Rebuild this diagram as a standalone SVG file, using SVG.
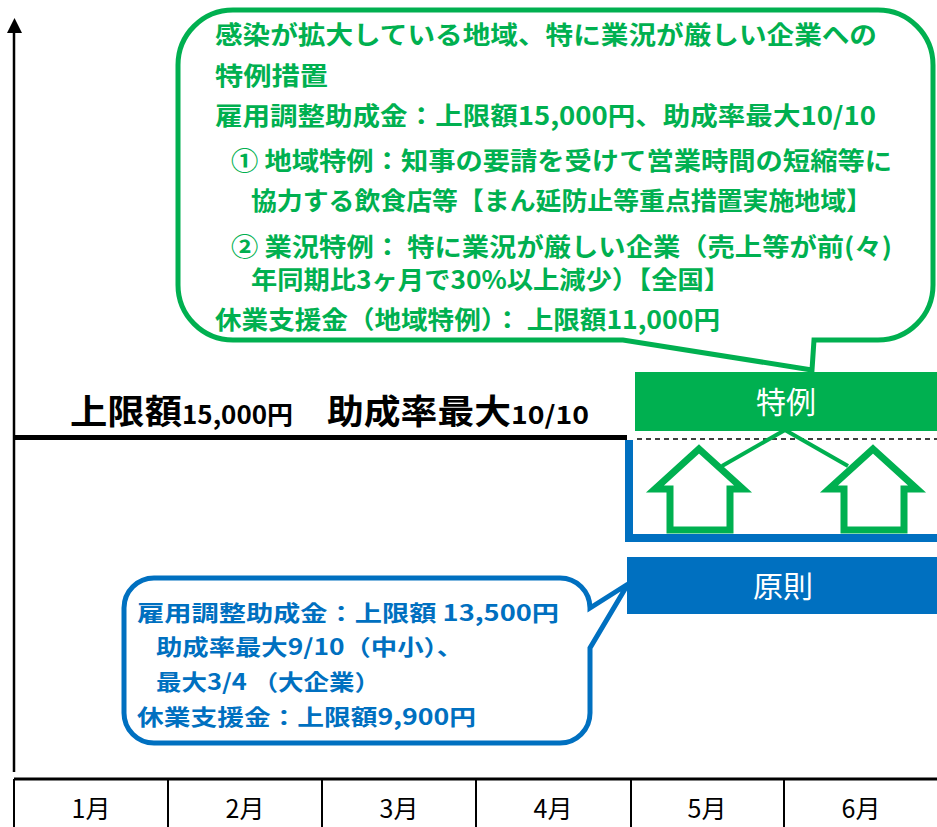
<svg xmlns="http://www.w3.org/2000/svg" width="937" height="827" viewBox="0 0 937 827">
<defs>
<style>
.gt{font-family:"Noto Sans CJK JP",sans-serif;font-weight:bold;font-size:25px;fill:#00B050;}
.bt{font-family:"Noto Sans CJK JP",sans-serif;font-weight:bold;font-size:22px;fill:#0070C0;}
.ttl{font-family:"Noto Sans CJK JP",sans-serif;font-weight:bold;fill:#000;}
.mon{font-family:"Noto Sans CJK JP",sans-serif;font-size:25px;fill:#000;text-anchor:middle;}
.lbl{font-family:"Noto Sans CJK JP",sans-serif;font-size:30px;fill:#fff;text-anchor:middle;}
.arrow{fill:#fff;stroke:#00B050;stroke-width:7;stroke-linejoin:miter;}
</style>
</defs>
<rect width="937" height="827" fill="#fff"/>

<g id="axis">
<line x1="14" y1="30" x2="14" y2="772" stroke="#000" stroke-width="2.5"/>
<polygon points="14.5,18 22,33 7,33" fill="#000"/>
</g>

<g id="table">
<line x1="14" y1="779" x2="937" y2="779" stroke="#000" stroke-width="3"/>
<g stroke="#000" stroke-width="2">
<line x1="14" y1="779" x2="14" y2="827"/>
<line x1="168" y1="779" x2="168" y2="827"/>
<line x1="322" y1="779" x2="322" y2="827"/>
<line x1="476" y1="779" x2="476" y2="827"/>
<line x1="631" y1="779" x2="631" y2="827"/>
<line x1="784" y1="779" x2="784" y2="827"/>
</g>
<text class="mon" x="91" y="818">1月</text>
<text class="mon" x="245" y="818">2月</text>
<text class="mon" x="399" y="818">3月</text>
<text class="mon" x="553" y="818">4月</text>
<text class="mon" x="707" y="818">5月</text>
<text class="mon" x="861" y="818">6月</text>
</g>

<g id="base-line">
<line x1="14" y1="437.5" x2="627" y2="437.5" stroke="#000" stroke-width="5"/>
<text class="ttl" x="70" y="424" font-size="34" textLength="112" lengthAdjust="spacingAndGlyphs">上限額</text>
<text class="ttl" x="182" y="424" font-size="25" textLength="111" lengthAdjust="spacingAndGlyphs">15,000円</text>
<text class="ttl" x="327" y="424" font-size="34" textLength="184" lengthAdjust="spacingAndGlyphs">助成率最大</text>
<text class="ttl" x="511" y="424" font-size="25" textLength="78" lengthAdjust="spacingAndGlyphs">10/10</text>
</g>

<g id="connectors">
<line x1="637" y1="439" x2="937" y2="439" stroke="#000" stroke-width="1.5" stroke-dasharray="5,4"/>
<path d="M629,440 V538 H937" fill="none" stroke="#0070C0" stroke-width="8"/>
<line x1="785" y1="430" x2="722" y2="466" stroke="#00B050" stroke-width="4"/>
<line x1="785" y1="430" x2="848" y2="466" stroke="#00B050" stroke-width="4"/>
</g>

<g id="arrow-1">
<polygon class="arrow" points="699,449 743,489 730,489 730,530 670,530 670,489 655,489"/>
</g>
<g id="arrow-2">
<polygon class="arrow" points="873,449 917,489 904,489 904,530 844,530 844,489 829,489"/>
</g>

<g id="tokurei">
<rect x="635" y="372" width="302" height="59" fill="#00B050"/>
<text class="lbl" x="786" y="413">特例</text>
</g>

<g id="gensoku">
<rect x="627" y="557" width="310" height="57" fill="#0070C0"/>
<text class="lbl" x="783" y="597">原則</text>
</g>

<g id="green-callout">
<path d="M233,10 H878 A55,55 0 0 1 933,65 V285 A55,55 0 0 1 878,340 H814 L812,370 L623,340 H233 A55,55 0 0 1 178,285 V65 A55,55 0 0 1 233,10 Z" fill="#fff" stroke="#00B050" stroke-width="5"/>
<text class="gt" x="215" y="44" textLength="662" lengthAdjust="spacingAndGlyphs">感染が拡大している地域、特に業況が厳しい企業への</text>
<text class="gt" x="215" y="85" textLength="113" lengthAdjust="spacingAndGlyphs">特例措置</text>
<text class="gt" x="215" y="125" textLength="661" lengthAdjust="spacingAndGlyphs">雇用調整助成金：上限額15,000円、助成率最大10/10</text>
<text class="gt" x="231" y="170" textLength="661" lengthAdjust="spacingAndGlyphs">① 地域特例：知事の要請を受けて営業時間の短縮等に</text>
<text class="gt" x="251" y="210" textLength="621" lengthAdjust="spacingAndGlyphs">協力する飲食店等【まん延防止等重点措置実施地域】</text>
<text class="gt" x="231" y="256" textLength="661" lengthAdjust="spacingAndGlyphs">② 業況特例： 特に業況が厳しい企業（売上等が前(々)</text>
<text class="gt" x="251" y="289" textLength="479" lengthAdjust="spacingAndGlyphs">年同期比3ヶ月で30%以上減少）【全国】</text>
<text class="gt" x="215" y="329" textLength="505" lengthAdjust="spacingAndGlyphs">休業支援金（地域特例）：  上限額11,000円</text>
</g>

<g id="blue-callout">
<path d="M154,578 H560 A30,30 0 0 1 590,608 L628,584 L590,648 V713 A30,30 0 0 1 560,743 H154 A30,30 0 0 1 124,713 V608 A30,30 0 0 1 154,578 Z" fill="#fff" stroke="#0070C0" stroke-width="5"/>
<text class="bt" x="137" y="621" textLength="422" lengthAdjust="spacingAndGlyphs">雇用調整助成金：上限額 13,500円</text>
<text class="bt" x="156" y="655" textLength="307" lengthAdjust="spacingAndGlyphs">助成率最大9/10（中小）、</text>
<text class="bt" x="156" y="690" textLength="224" lengthAdjust="spacingAndGlyphs">最大3/4 （大企業）</text>
<text class="bt" x="137" y="725" textLength="339" lengthAdjust="spacingAndGlyphs">休業支援金：上限額9,900円</text>
</g>
</svg>
